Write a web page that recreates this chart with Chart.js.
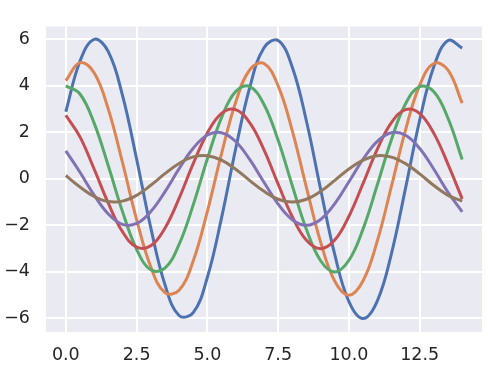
<!DOCTYPE html>
<html>
<head>
<meta charset="utf-8">
<script src="https://cdn.jsdelivr.net/npm/chart.js@4/dist/chart.umd.min.js"></script>
<style>
  html, body { margin: 0; padding: 0; background: #fff; }
  #wrap { width: 488px; height: 369px; }
</style>
</head>
<body>
<div id="wrap"><canvas id="sinChart" width="488" height="369"></canvas></div>
<script>
// x positions (step 0.5) and the six offset sine curves
const xs = [0, 0.5, 1, 1.5, 2, 2.5, 3, 3.5, 4, 4.5, 5, 5.5, 6, 6.5, 7, 7.5, 8, 8.5, 9, 9.5, 10, 10.5, 11, 11.5, 12, 12.5, 13, 13.5, 14];

const blue = [2.88, 5.05, 5.99, 5.46, 3.59, 0.85, -2.10, -4.54, -5.87, -5.75, -4.23, -1.68, 1.29, 3.94, 5.63, 5.94, 4.79, 2.47, -0.45, -3.26, -5.28, -6.00, -5.25, -3.22, -0.40, 2.52, 4.82, 5.94, 5.61];
const orange = [4.21, 4.99, 4.55, 2.99, 0.71, -1.75, -3.78, -4.89, -4.79, -3.53, -1.40, 1.08, 3.29, 4.69, 4.95, 3.99, 2.06, -0.38, -2.72, -4.40, -5.00, -4.38, -2.68, -0.33, 2.10, 4.02, 4.95, 4.67, 3.25];
const green = [3.99, 3.64, 2.39, 0.56, -1.40, -3.03, -3.91, -3.84, -2.82, -1.12, 0.86, 2.63, 3.75, 3.96, 3.19, 1.65, -0.30, -2.18, -3.52, -4.00, -3.50, -2.15, -0.27, 1.68, 3.22, 3.96, 3.74, 2.60, 0.83];
const red = [2.73, 1.80, 0.42, -1.05, -2.27, -2.93, -2.88, -2.12, -0.84, 0.65, 1.97, 2.81, 2.97, 2.40, 1.24, -0.23, -1.63, -2.64, -3.00, -2.63, -1.61, -0.20, 1.26, 2.41, 2.97, 2.80, 1.95, 0.62, -0.86];
const purple = [1.20, 0.28, -0.70, -1.51, -1.96, -1.92, -1.41, -0.56, 0.43, 1.31, 1.88, 1.98, 1.60, 0.82, -0.15, -1.09, -1.76, -2.00, -1.75, -1.07, -0.13, 0.84, 1.61, 1.98, 1.87, 1.30, 0.41, -0.58, -1.42];
const brown = [0.14, -0.35, -0.76, -0.98, -0.96, -0.71, -0.28, 0.22, 0.66, 0.94, 0.99, 0.80, 0.41, -0.08, -0.54, -0.88, -1.00, -0.88, -0.54, -0.07, 0.42, 0.80, 0.99, 0.93, 0.65, 0.21, -0.29, -0.71, -0.96];

const xTicks = [0, 2.5, 5, 7.5, 10, 12.5];
const yTicks = [-6, -4, -2, 0, 2, 4, 6];

const series = [blue, orange, green, red, purple, brown];
const colors = ['#4C72B0', '#DD8452', '#55A868', '#C44E52', '#8172B3', '#937860'];

const FONT = { family: '"DejaVu Sans", sans-serif', size: 17.5 };
const TEXT = '#262626';

// grey panel behind the plot like seaborn darkgrid
const panelBg = {
  id: 'panelBg',
  beforeDraw(chart) {
    const a = chart.chartArea;
    const ctx = chart.ctx;
    ctx.save();
    ctx.fillStyle = '#EAEAF2';
    ctx.fillRect(a.left, a.top, a.right - a.left, a.bottom - a.top);
    ctx.restore();
  }
};

const datasets = series.map(function (vals, i) {
  return {
    data: vals.map(function (v, j) { return { x: xs[j], y: v }; }),
    borderColor: colors[i],
    borderWidth: 3,
    pointRadius: 0,
    fill: false,
    tension: 0.4,
    order: series.length - i   // later lines drawn on top, like matplotlib
  };
});

new Chart(document.getElementById('sinChart'), {
  type: 'line',
  data: { datasets: datasets },
  options: {
    responsive: false,
    animation: false,
    layout: { padding: { top: 9, right: 6, left: 0, bottom: 0 } },
    plugins: { legend: { display: false }, tooltip: { enabled: false } },
    scales: {
      x: {
        type: 'linear',
        min: -0.7,
        max: 14.7,
        afterBuildTicks(scale) { scale.ticks = xTicks.map(v => ({ value: v })); },
        afterFit(scale) { scale.height = 37; },
        grid: { color: '#ffffff', lineWidth: 2, drawTicks: false },
        border: { display: false },
        ticks: {
          padding: 13,
          color: TEXT,
          font: FONT,
          maxRotation: 0,
          callback: v => v.toFixed(1)
        }
      },
      y: {
        min: -6.58,
        max: 6.54,
        afterBuildTicks(scale) { scale.ticks = yTicks.map(v => ({ value: v })); },
        afterFit(scale) { scale.width = 46; },
        grid: { color: '#ffffff', lineWidth: 2, drawTicks: false },
        border: { display: false },
        ticks: {
          padding: 16,
          color: TEXT,
          font: FONT,
          callback: v => String(v).replace('-', '\u2212')
        }
      }
    }
  },
  plugins: [panelBg]
});
</script>
</body>
</html>
